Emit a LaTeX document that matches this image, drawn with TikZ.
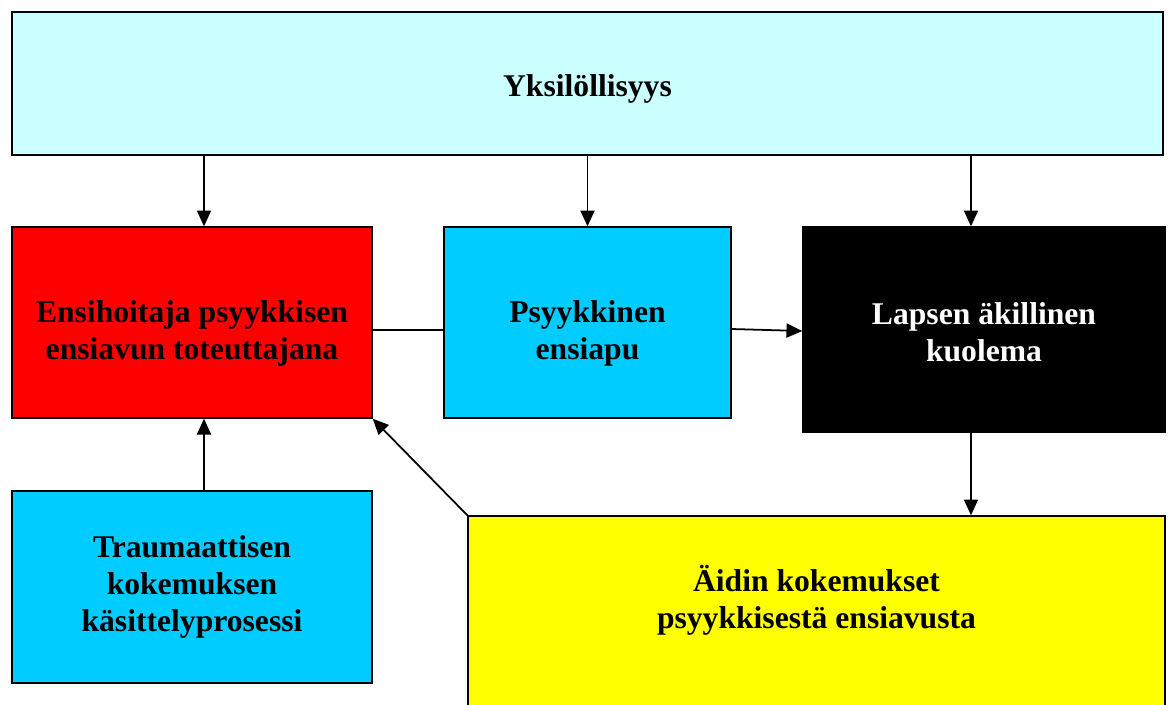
\documentclass[tikz,border=0pt]{standalone}
\usepackage{fontspec}
\setmainfont{Liberation Serif}
\usetikzlibrary{calc,arrows.meta,positioning}
\definecolor{paleblue}{HTML}{CCFFFF}
\definecolor{skyblue}{HTML}{00CCFF}
\definecolor{boxyellow}{HTML}{FFFF00}

\begin{document}
\begin{tikzpicture} [x=0.02cm,y=-0.02cm,{box/.style={rectangle,draw=black,line width=0.8pt,align=center,inner sep=0pt,font=\fontsize{18}{21}\selectfont\bfseries}},{conn/.style={line width=1pt,-{Triangle[length=9pt,width=8pt]}}}]
	\useasboundingbox (0,0) rectangle (1171,704);
	%%boxes
	\node [box,fill=paleblue,minimum width=23.02cm,minimum height=2.86cm,text height=0.67cm] (yks) at (587.5,83.5) {Yksilöllisyys};
	\node [box,fill=red,minimum width=7.2cm,minimum height=3.82cm,text height=1.6cm] (ensi) at (192,322.5) {Ensihoitaja psyykkisen\\ensiavun toteuttajana};
	\node [box,fill=skyblue,minimum width=5.74cm,minimum height=3.82cm,text height=1.62cm] (apu) at (587.5,322.5) {Psyykkinen\\ensiapu};
	\node [box,fill=black,text=white,minimum width=7.24cm,minimum height=4.1cm,text height=1.29cm] (kuol) at (984,329.5) {Lapsen äkillinen\\kuolema};
	\node [box,fill=skyblue,minimum width=7.2cm,minimum height=3.84cm] (trauma) at (192,587) {Traumaattisen\\kokemuksen\\käsittelyprosessi};
	\node [box,fill=boxyellow,minimum width=13.94cm,minimum height=4.28cm,text depth=1.05cm] (aiti) at (816.5,623) {Äidin kokemukset\\psyykkisestä ensiavusta};

	%%connectors
	\draw [conn] ($(yks.south -| ensi.north)+(12,0)$) -- ($(ensi.north)+(12,0)$);
	\draw [conn] (yks.south -| apu.north) -- (apu.north);
	\draw [conn] ($(yks.south -| kuol.north)+(-13,0)$) -- ($(kuol.north)+(-13,0)$);
	\draw [line width=1pt] ($(ensi.east)+(0,7.5)$) -- ($(apu.west)+(0,7.5)$);
	\draw [conn] ($(apu.east)+(0,6.5)$) -- ($(kuol.west)+(0,1.5)$);
	\draw [conn] ($(kuol.south)+(-13,0)$) -- ($(kuol.south |- aiti.north)+(-13,0)$);
	\draw [conn] ($(trauma.north)+(12,0)$) -- ($(ensi.south)+(12,0)$);
	\draw [conn] (aiti.north west) -- (ensi.south east);
\end{tikzpicture}
\end{document}
